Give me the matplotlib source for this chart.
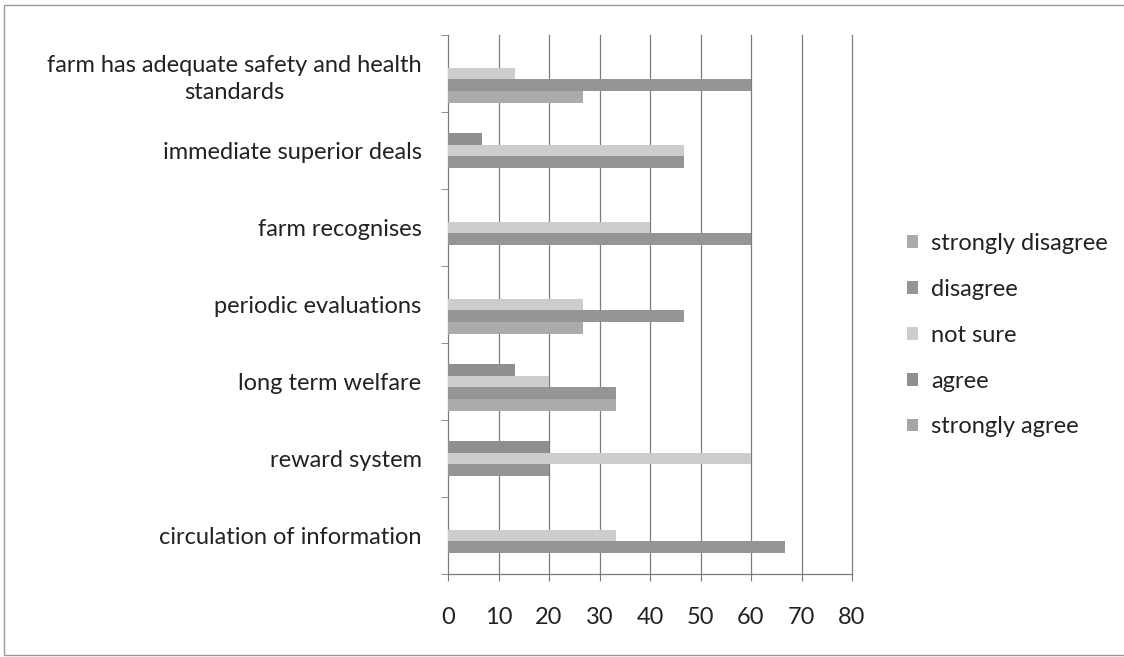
# grouped horizontal bar chart: farm worker survey responses (percent)
import numpy as np
import matplotlib
matplotlib.use('Agg')
import matplotlib.pyplot as plt
from matplotlib.patches import Rectangle

categories = ['circulation of information',
              'reward system',
              'long term welfare',
              'periodic evaluations',
              'farm recognises',
              'immediate superior deals',
              'farm has adequate safety and health\nstandards']

series_names = ['strongly disagree', 'disagree', 'not sure', 'agree', 'strongly agree']
strongly_disagree = [0, 0, 33.3, 26.7, 0, 0, 26.7]
disagree = [66.7, 20, 33.3, 46.7, 60, 46.7, 60]
not_sure = [33.3, 60, 20, 26.7, 40, 46.7, 13.3]
agree = [0, 20, 13.3, 0, 0, 6.7, 0]
strongly_agree = [0, 0, 0, 0, 0, 0, 0]

x_ticks = [0, 10, 20, 30, 40, 50, 60, 70, 80]

colors = ['#ababab', '#959595', '#cdcdcd', '#8f8f8f', '#a6a6a6']
grid_col = '#7c7c7c'

plt.rcParams['font.family'] = ['Lato', 'DejaVu Sans']

W, H = 1124, 657
fig = plt.figure(figsize=(W / 100, H / 100), dpi=100)
ax = fig.add_axes([448 / W, 1 - 574 / H, (852 - 448) / W, (574 - 35) / H])

# outer chart border (right edge falls outside the picture)
fig.patches.append(Rectangle((4 / W, 1 - 655 / H), 1.2, (655 - 5) / H,
                             transform=fig.transFigure, fill=False,
                             edgecolor='#9a9a9a', lw=1))

n = len(series_names)
ys = np.arange(len(categories))
h = 1 / (n + 1.5)
values = [strongly_disagree, disagree, not_sure, agree, strongly_agree]
handles = []
for k, (name, vals) in enumerate(zip(series_names, values)):
    b = ax.barh(ys + (k - 2) * h, vals, height=h, color=colors[k], label=name,
                edgecolor='none', zorder=3)
    handles.append(b)

ax.set_xlim(0, 80)
ax.set_ylim(-0.5, len(categories) - 0.5)
ax.set_xticks(x_ticks)
for xv in x_ticks[1:]:
    ax.axvline(xv, color=grid_col, lw=0.9, zorder=1, clip_on=False)

ax.set_yticks(ys)
ax.set_yticklabels(categories, fontsize=17, color='#222222', multialignment='center',
                   linespacing=1.4)
ax.set_yticks(np.arange(len(categories) + 1) - 0.5, minor=True)
ax.tick_params(axis='y', which='major', length=0, pad=19)
ax.tick_params(axis='y', which='minor', length=5, color=grid_col, direction='out')
ax.tick_params(axis='x', length=5, color=grid_col, direction='out', pad=19,
               labelsize=17, labelcolor='#222222')

for s in ['top', 'right']:
    ax.spines[s].set_visible(False)
for s in ['left', 'bottom']:
    ax.spines[s].set_color(grid_col)
    ax.spines[s].set_linewidth(0.9)

fig.legend(handles=handles, loc='upper left', bbox_to_anchor=(886 / W, 1 - 212 / H),
           frameon=False, fontsize=17, handlelength=0.45, handleheight=0.45,
           handletextpad=0.55, labelspacing=1.05, labelcolor='#222222')

fig.savefig('out.png', dpi=100)
